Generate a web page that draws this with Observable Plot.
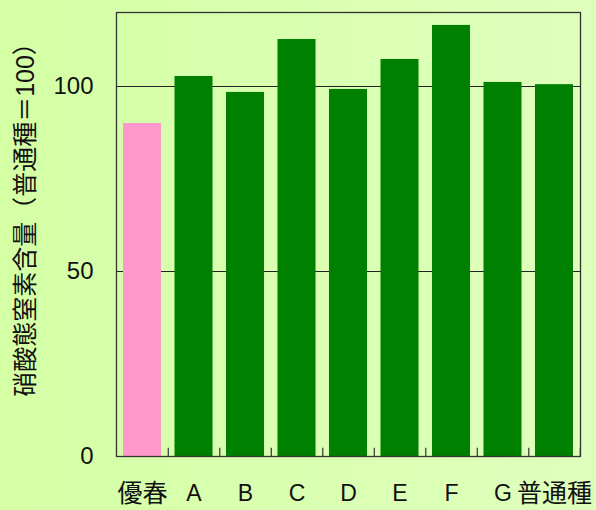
<!DOCTYPE html>
<html>
<head>
<meta charset="utf-8">
<script src="https://cdn.jsdelivr.net/npm/d3@7"></script>
<script src="https://cdn.jsdelivr.net/npm/@observablehq/plot@0.6"></script>
<style>
  html, body { margin: 0; padding: 0; }
  body { width: 596px; height: 510px; background: linear-gradient(to right, #d4ffa5, #dfffbd); overflow: hidden; }
</style>
</head>
<body>
<div id="chart"></div>
<script>
const categories = ["優春", "A", "B", "C", "D", "E", "F", "G", "普通種"];
const values = [90, 102.7, 98.4, 112.7, 99.2, 107.3, 116.5, 101.1, 100.5];
const barColors = ["#ff99cc", "#008000", "#008000", "#008000", "#008000", "#008000", "#008000", "#008000", "#008000"];
const yTicks = [0, 50, 100];
const yTitle = "硝酸態窒素含量（普通種＝100）";

const data = categories.map((c, i) => ({cat: c, value: values[i], color: barColors[i]}));

const W = 596, H = 510, mL = 116, mR = 16, mT = 12, mB = 54;
const step = (W - mL - mR) / categories.length;

const chart = Plot.plot({
  width: W, height: H,
  marginLeft: mL, marginRight: mR, marginTop: mT, marginBottom: mB,
  style: {background: "transparent", fontFamily: "'Liberation Sans', 'Noto Sans CJK JP', sans-serif", color: "#111"},
  x: {domain: categories, paddingInner: 0.262, paddingOuter: 0.136, round: false, axis: null},
  y: {domain: [0, 120], label: null},
  color: {type: "identity"},
  marks: [
    Plot.gridY(yTicks.slice(1), {stroke: "#222", strokeOpacity: 1, strokeWidth: 1.2}),
    Plot.barY(data, {x: "cat", y: "value", fill: "color"}),
    Plot.ruleX(categories, {x: d => d, dx: step / 2, y1: 0, y2: 2.2, stroke: "#333", strokeWidth: 1.2}),
    Plot.axisY(yTicks, {tickSize: 0, tickPadding: 23, fontSize: 24, tickFormat: d => String(d), label: null}),
    Plot.text(categories, {x: d => d, frameAnchor: "bottom", dy: 37, fontSize: d => /^[A-Z]$/.test(d) ? 23 : 25, textAnchor: "middle", lineAnchor: "middle", fill: "#111"}),
    Plot.text([yTitle], {frameAnchor: "left", dx: -91, dy: -21, rotate: -90, fontSize: 25, textAnchor: "middle", lineAnchor: "middle", fill: "#111"}),
    Plot.frame({stroke: "#333", strokeWidth: 1.3})
  ]
});
document.getElementById("chart").appendChild(chart);
</script>
</body>
</html>
